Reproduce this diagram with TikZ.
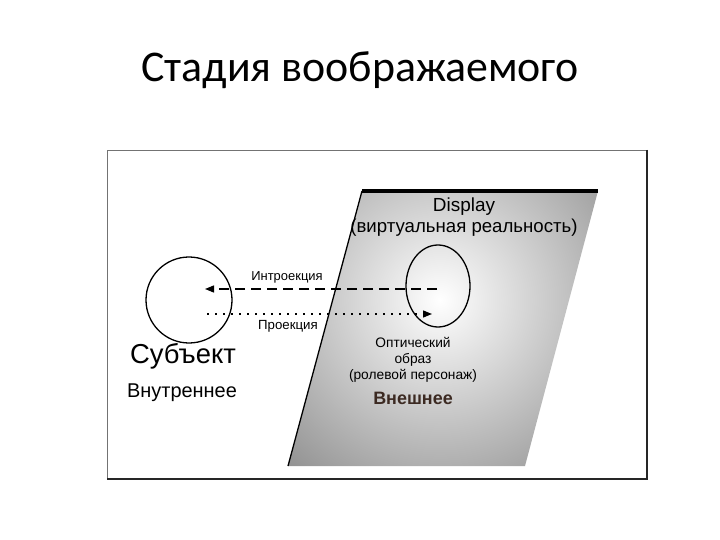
\documentclass[tikz,border=0pt]{standalone}
\usepackage{fontspec}
\setmainfont{Liberation Sans}
\newfontfamily\titlefont{Carlito}
\usetikzlibrary{arrows.meta}
\begin{document}
\begin{tikzpicture}[x=1bp,y=-1bp,
  lbl/.style={inner sep=0pt, font=\fontsize{#1}{#1}\selectfont},
  arr/.style={line width=1.3pt, -{Triangle[length=9bp,width=7bp]}}]
\useasboundingbox (0,0) rectangle (720,540);
\fill[white] (0,0) rectangle (720,540);
% title
\node[inner sep=0pt, font=\titlefont\fontsize{44}{44}\selectfont] (title) at (360,70) {Стадия воображаемого};
% frame
\draw[black!55, line width=0.8pt] (107,150) rectangle (647,479);
\draw[black!85, line width=1.5pt] (647,150) -- (647,479) -- (107,479);
% display parallelogram
\begin{scope}
  \clip (362,191) -- (598,191) -- (525,466) -- (288,466) -- cycle;
  \shade[inner color=white, outer color=black!55] (440,300) circle (290);
\end{scope}
\draw[line width=1.3pt] (288,466) -- (362,191);
\draw[line width=4pt] (362,191) -- (598,191);
% circles
\draw[line width=1.3pt] (189,300) circle (43);
\draw[line width=1.3pt] (438,286) ellipse (32 and 41);
\coordinate (introS) at (437,289);
\coordinate (introE) at (205,289);
\coordinate (projS) at (207,314);
\coordinate (projE) at (432,314);
\draw[arr, dash pattern=on 10bp off 6bp] (introS) -- (introE);
\draw[arr, dash pattern=on 2bp off 6bp] (projS) -- (projE);
% labels
\node[lbl=13] (intro) at (287,277) {Интроекция};
\node[lbl=13.3] (proj) at (288,326) {Проекция};
\node[lbl=27.5] (subj) at (183,356) {Субъект};
\node[lbl=20] (inner) at (182,393) {Внутреннее};
\node[lbl=19] (disp) at (464,207) {Display};
\node[lbl=18.7] (virt) at (464,228) {(виртуальная реальность)};
\node[inner sep=0pt, align=center, font=\fontsize{13.8}{15.8}\selectfont] (opt) at (413,360) {Оптический\\образ\\(ролевой персонаж)};
\node[inner sep=0pt, font=\bfseries\fontsize{18}{18}\selectfont, text={rgb,255:red,60;green,42;blue,34}] (ext) at (413,398) {Внешнее};
\end{tikzpicture}
\end{document}
